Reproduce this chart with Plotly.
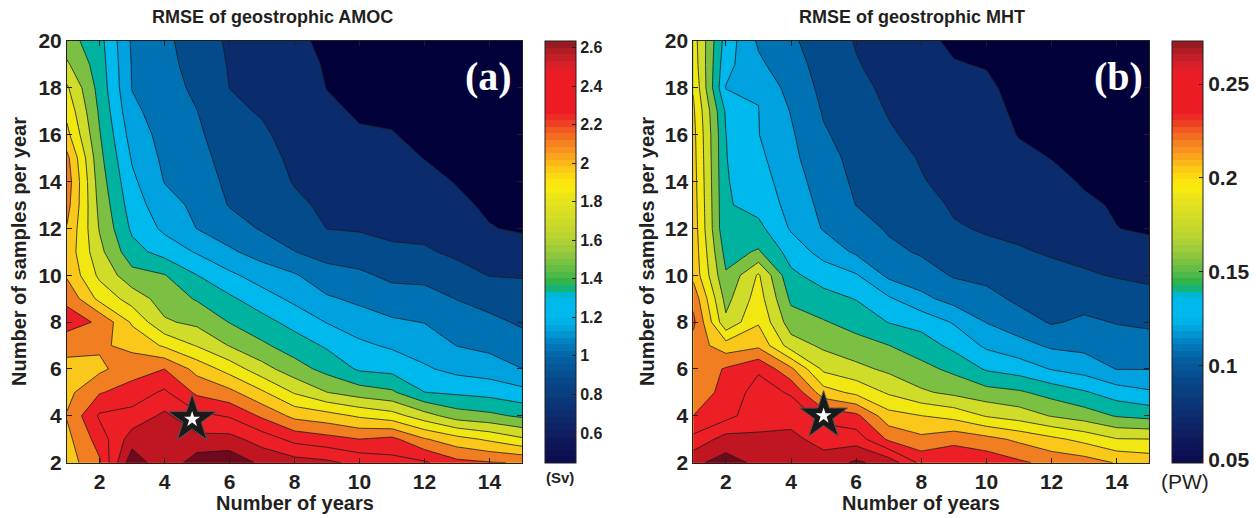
import numpy as np
import plotly.graph_objects as go

# ---------------------------------------------------------------- data
years = list(range(1, 16))          # number of years
samples = list(range(2, 21))        # number of samples per year

# RMSE of geostrophic AMOC (Sv); one list per number of years,
# values for 2, 3, ..., 20 samples per year
amoc_rmse = [
    [1.93, 1.96, 2.01, 1.96, 1.95, 2.05, 2.20, 2.11, 1.98, 1.95, 1.99, 2.05, 2.08, 2.04, 1.90, 1.82, 1.74, 1.60, 1.50],
    [2.12, 2.20, 2.30, 2.13, 1.97, 2.02, 2.12, 1.82, 1.69, 1.62, 1.57, 1.54, 1.51, 1.48, 1.45, 1.42, 1.39, 1.37, 1.35],
    [2.66, 2.49, 2.33, 2.20, 2.08, 1.965, 1.84, 1.66, 1.49, 1.35, 1.275, 1.23, 1.19, 1.147, 1.10, 1.053, 1.015, 1.01, 1.00],
    [2.45, 2.50, 2.45, 2.304, 2.14, 1.84, 1.598, 1.517, 1.447, 1.248, 1.13, 1.072, 1.015, 0.99, 0.97, 0.95, 0.93, 0.92, 0.91],
    [2.64, 2.457, 2.318, 2.112, 1.953, 1.711, 1.548, 1.427, 1.302, 1.146, 1.017, 0.99, 0.962, 0.935, 0.907, 0.882, 0.855, 0.83, 0.81],
    [2.66, 2.467, 2.267, 2.04, 1.804, 1.573, 1.435, 1.325, 1.189, 1.042, 0.943, 0.872, 0.845, 0.818, 0.791, 0.764, 0.739, 0.73, 0.72],
    [2.53, 2.36, 2.117, 1.883, 1.634, 1.465, 1.349, 1.222, 1.095, 0.962, 0.867, 0.84, 0.813, 0.786, 0.759, 0.73, 0.71, 0.69, 0.67],
    [2.48, 2.238, 1.962, 1.707, 1.50, 1.372, 1.252, 1.128, 1.034, 0.882, 0.824, 0.768, 0.731, 0.713, 0.694, 0.676, 0.66, 0.64, 0.62],
    [2.45, 2.191, 1.916, 1.582, 1.395, 1.281, 1.154, 1.038, 0.932, 0.83, 0.738, 0.713, 0.689, 0.665, 0.641, 0.617, 0.598, 0.59, 0.58],
    [2.38, 2.142, 1.84, 1.51, 1.281, 1.188, 1.088, 0.991, 0.906, 0.805, 0.728, 0.698, 0.669, 0.639, 0.609, 0.59, 0.576, 0.563, 0.55],
    [2.33, 2.178, 1.78, 1.463, 1.258, 1.14, 1.04, 0.943, 0.849, 0.758, 0.717, 0.689, 0.661, 0.633, 0.604, 0.585, 0.57, 0.55, 0.53],
    [2.30, 2.014, 1.64, 1.302, 1.179, 1.094, 1.016, 0.931, 0.844, 0.754, 0.708, 0.671, 0.634, 0.598, 0.58, 0.56, 0.54, 0.525, 0.51],
    [2.18, 1.913, 1.51, 1.277, 1.119, 1.017, 0.947, 0.876, 0.785, 0.717, 0.67, 0.623, 0.594, 0.577, 0.56, 0.54, 0.52, 0.505, 0.49],
    [2.15, 1.836, 1.473, 1.253, 1.09, 0.985, 0.913, 0.829, 0.736, 0.671, 0.606, 0.582, 0.565, 0.548, 0.53, 0.515, 0.50, 0.485, 0.47],
    [2.13, 1.744, 1.417, 1.205, 1.022, 0.938, 0.861, 0.796, 0.731, 0.658, 0.585, 0.565, 0.545, 0.525, 0.51, 0.495, 0.48, 0.465, 0.45],
]

# RMSE of geostrophic MHT (PW); same layout
mht_rmse = [
    [0.262, 0.241, 0.2225, 0.212, 0.211, 0.216, 0.226, 0.218, 0.204, 0.203, 0.202, 0.201, 0.200, 0.199, 0.198, 0.196, 0.1925, 0.188, 0.186],
    [0.272, 0.257, 0.232, 0.228, 0.224, 0.200, 0.168, 0.160, 0.152, 0.145, 0.138, 0.1375, 0.137, 0.1365, 0.1362, 0.134, 0.121, 0.126, 0.130],
    [0.262, 0.2535, 0.246, 0.2425, 0.235, 0.205, 0.192, 0.186, 0.181, 0.152, 0.140, 0.131, 0.128, 0.125, 0.122, 0.1218, 0.121, 0.110, 0.105],
    [0.262, 0.255, 0.246, 0.2352, 0.2109, 0.172, 0.157, 0.1476, 0.139, 0.130, 0.120, 0.117, 0.114, 0.111, 0.109, 0.1065, 0.101, 0.098, 0.095],
    [0.2574, 0.2459, 0.232, 0.1998, 0.1761, 0.162, 0.1515, 0.1411, 0.1297, 0.1163, 0.106, 0.1031, 0.1002, 0.0972, 0.0943, 0.0916, 0.0897, 0.0878, 0.0859],
    [0.268, 0.2446, 0.226, 0.1901, 0.1688, 0.1558, 0.1451, 0.1354, 0.1229, 0.1048, 0.0988, 0.0926, 0.0905, 0.0892, 0.0870, 0.0847, 0.0825, 0.0793, 0.0775],
    [0.260, 0.220, 0.199, 0.1772, 0.1618, 0.1506, 0.1355, 0.1235, 0.104, 0.096, 0.0912, 0.0884, 0.0856, 0.0829, 0.0801, 0.0775, 0.0752, 0.0735, 0.0718],
    [0.233, 0.2116, 0.1938, 0.167, 0.1547, 0.1431, 0.1309, 0.1111, 0.0989, 0.0913, 0.0873, 0.0832, 0.0792, 0.0775, 0.0745, 0.072, 0.070, 0.068, 0.0662],
    [0.234, 0.2183, 0.1888, 0.1613, 0.147, 0.1322, 0.1203, 0.1017, 0.0916, 0.0856, 0.0796, 0.0768, 0.0747, 0.0727, 0.0706, 0.0686, 0.0665, 0.0645, 0.0625],
    [0.232, 0.2128, 0.1781, 0.1558, 0.1344, 0.1191, 0.1067, 0.0974, 0.089, 0.0814, 0.0772, 0.0753, 0.0734, 0.0715, 0.0695, 0.0676, 0.0657, 0.0635, 0.060],
    [0.225, 0.205, 0.1725, 0.1524, 0.1295, 0.1122, 0.099, 0.0899, 0.0847, 0.0794, 0.0759, 0.0727, 0.0696, 0.0665, 0.0635, 0.062, 0.061, 0.059, 0.058],
    [0.218, 0.1972, 0.1639, 0.1451, 0.1208, 0.1049, 0.0915, 0.0865, 0.0816, 0.0773, 0.0739, 0.0705, 0.0671, 0.0638, 0.063, 0.062, 0.060, 0.058, 0.056],
    [0.215, 0.1894, 0.1579, 0.1377, 0.1158, 0.1032, 0.0952, 0.0875, 0.0799, 0.0748, 0.0703, 0.0658, 0.063, 0.062, 0.061, 0.059, 0.057, 0.055, 0.053],
    [0.207, 0.180, 0.1493, 0.1286, 0.1068, 0.0994, 0.0921, 0.0848, 0.0775, 0.0708, 0.0642, 0.063, 0.062, 0.060, 0.058, 0.056, 0.054, 0.052, 0.050],
    [0.203, 0.1795, 0.1461, 0.1235, 0.1068, 0.0987, 0.0903, 0.0829, 0.0754, 0.0678, 0.0625, 0.062, 0.060, 0.058, 0.056, 0.054, 0.052, 0.050, 0.048],
]

# reference configuration marked with a star (years, samples per year)
star_amoc = (4.85, 3.85)
star_mht = (5.0, 4.0)

# contour levels: first level, spacing, number of levels
amoc_levels = (0.60, 0.14, 15)
mht_levels = (0.064, 0.0144, 15)

# colour-bar ranges and ticks
amoc_crange = (0.444, 2.634)
mht_crange = (0.048, 0.273)
amoc_cticks = [0.6, 0.8, 1.0, 1.2, 1.4, 1.6, 1.8, 2.0, 2.2, 2.4, 2.6]
amoc_cticktext = ["0.6", "0.8", "1", "1.2", "1.4", "1.6", "1.8", "2", "2.2", "2.4", "2.6"]
mht_cticks = [0.05, 0.10, 0.15, 0.20, 0.25]
mht_cticktext = ["0.05", "0.1", "0.15", "0.2", "0.25"]

# ---------------------------------------------------------------- colours
# fill colour of each band between contour levels (lowest to highest)
band_colors = ["#03013a", "#0b2c6c", "#044b8b", "#0071b2", "#00a1df", "#00b9ec",
               "#00b3a1", "#7bc043", "#cfdc2a", "#f1e712", "#fac81b", "#f27e22",
               "#ec1e26", "#ec1e26", "#bf1622", "#6f0a1c"]

# anchor colours of the 64-step colour bar
cbar_anchors = [
    (0.00, "#0b0b4c"), (0.06, "#10195e"), (0.13, "#0b3274"), (0.20, "#064a8a"),
    (0.25, "#0462a4"), (0.29, "#0284c6"), (0.32, "#00a6de"), (0.345, "#00b9ec"),
    (0.395, "#00b9ec"), (0.405, "#00b3a2"), (0.425, "#2bb34a"), (0.45, "#56b947"),
    (0.49, "#8cc63f"), (0.53, "#b5d334"), (0.58, "#d2dc27"), (0.62, "#e5e31c"),
    (0.655, "#faec0c"), (0.69, "#fdd113"), (0.725, "#f9a61b"), (0.755, "#f58520"),
    (0.78, "#f26522"), (0.805, "#ee4023"), (0.83, "#ed1c24"), (0.92, "#ed1c24"),
    (0.95, "#d0202a"), (0.975, "#b21d25"), (1.00, "#8b1a1f"),
]


def hex_to_rgb(h):
    h = h.lstrip("#")
    return np.array([int(h[i:i + 2], 16) for i in (0, 2, 4)], dtype=float)


def stepped_colorbar_scale(anchors, nsteps=64):
    pos = np.array([a[0] for a in anchors])
    rgb = np.array([hex_to_rgb(a[1]) for a in anchors])
    scale = []
    for i in range(nsteps):
        f = (i + 0.5) / nsteps
        c = [np.interp(f, pos, rgb[:, k]) for k in range(3)]
        col = "rgb(%d,%d,%d)" % tuple(int(round(v)) for v in c)
        scale.append([i / nsteps, col])
        scale.append([(i + 1) / nsteps, col])
    return scale


def band_scale(colors):
    n = len(colors) - 1
    return [[k / n, c] for k, c in enumerate(colors)]


cbar_scale = stepped_colorbar_scale(cbar_anchors)
fill_scale = band_scale(band_colors)

# ---------------------------------------------------------------- layout geometry (pixels)
W, H = 1256, 518
TOP, BOTTOM = 41, 462.7
panels = [
    dict(z=amoc_rmse, levels=amoc_levels, crange=amoc_crange, cticks=amoc_cticks,
         ctext=amoc_cticktext, cfont=16, star=star_amoc, x0=67, x1=522, cb=545,
         title="RMSE of geostrophic AMOC", title_x=272, tag="(a)", tag_x=488,
         unit="(Sv)", unit_x=560, unit_y=477, unit_size=15, unit_weight="bold", ylab_x=19),
    dict(z=mht_rmse, levels=mht_levels, crange=mht_crange, cticks=mht_cticks,
         ctext=mht_cticktext, cfont=21, star=star_mht, x0=693.3, x1=1149.3, cb=1172.3,
         title="RMSE of geostrophic MHT", title_x=912, tag="(b)", tag_x=1118,
         unit="(PW)", unit_x=1185, unit_y=481, unit_size=21, unit_weight="normal", ylab_x=647),
]

INK = "#231f20"
SANS = "Liberation Sans, Arial, Helvetica, sans-serif"
SERIF = "Liberation Serif, Times New Roman, serif"

fig = go.Figure()
annotations = []
layout_axes = {}

for i, p in enumerate(panels, start=1):
    xa = "x" if i == 1 else "x%d" % i
    ya = "y" if i == 1 else "y%d" % i
    z = np.array(p["z"]).T          # rows: samples per year, columns: years
    start, step, n = p["levels"]

    fig.add_trace(go.Contour(
        x=years, y=samples, z=z, xaxis=xa, yaxis=ya,
        contours=dict(start=start, end=start + (n - 1) * step, size=step,
                      coloring="fill", showlines=True),
        line=dict(color="#1a1a1a", width=0.8, smoothing=0),
        colorscale=fill_scale, showscale=False, hoverinfo="skip",
    ))

    # colour bar carried by an invisible marker
    cmin, cmax = p["crange"]
    fig.add_trace(go.Scatter(
        x=[8], y=[11], xaxis=xa, yaxis=ya, mode="markers", hoverinfo="skip",
        showlegend=False,
        marker=dict(size=1, opacity=0, color=[cmin], cmin=cmin, cmax=cmax,
                    colorscale=cbar_scale, showscale=True,
                    colorbar=dict(
                        x=p["cb"] / W, xanchor="left", xpad=0,
                        y=1 - TOP / H, yanchor="top", ypad=0,
                        len=(463.3 - TOP) / H, lenmode="fraction",
                        thickness=31, thicknessmode="pixels",
                        outlinewidth=1, outlinecolor=INK,
                        ticks="inside", ticklen=4, tickcolor=INK, tickwidth=1,
                        tickvals=p["cticks"], ticktext=p["ctext"],
                        tickfont=dict(family=SANS, size=p["cfont"], color=INK, weight="bold"),
                    )),
    ))

    # star marker: black star with a small white star inside
    sx, sy = p["star"]
    fig.add_trace(go.Scatter(x=[sx], y=[sy], xaxis=xa, yaxis=ya, mode="markers",
                             hoverinfo="skip", showlegend=False,
                             marker=dict(symbol="star", size=36, color="#1a1a1a",
                                         line=dict(width=1, color="#555555"))))
    fig.add_trace(go.Scatter(x=[sx], y=[sy], xaxis=xa, yaxis=ya, mode="markers",
                             hoverinfo="skip", showlegend=False,
                             marker=dict(symbol="star", size=12, color="white",
                                         line=dict(width=0))))

    axis_common = dict(showline=True, linecolor=INK, linewidth=1, mirror="ticks",
                       ticks="inside", ticklen=5, tickwidth=1, tickcolor=INK,
                       showgrid=False, zeroline=False, automargin=False,
                       tickfont=dict(family=SANS, size=21, color=INK, weight="bold"))
    layout_axes["xaxis" if i == 1 else "xaxis%d" % i] = dict(
        axis_common, domain=[p["x0"] / W, p["x1"] / W], range=[1, 15],
        tickvals=list(range(2, 15, 2)), anchor=ya)
    layout_axes["yaxis" if i == 1 else "yaxis%d" % i] = dict(
        axis_common, domain=[1 - BOTTOM / H, 1 - TOP / H], range=[2, 20],
        tickvals=list(range(2, 21, 2)), anchor=xa)

    xc = (p["x0"] + p["x1"]) / 2
    annotations += [
        dict(text=p["title"], x=p["title_x"] / W, y=1 - 17 / H, xref="paper", yref="paper",
             showarrow=False, xanchor="center", yanchor="middle",
             font=dict(family=SANS, size=18, color=INK, weight="bold")),
        dict(text="Number of years", x=xc / W, y=1 - 503 / H, xref="paper", yref="paper",
             showarrow=False, xanchor="center", yanchor="middle",
             font=dict(family=SANS, size=20, color=INK, weight="bold")),
        dict(text="Number of samples per year", x=p["ylab_x"] / W, y=1 - 252 / H,
             xref="paper", yref="paper", showarrow=False, textangle=-90,
             xanchor="center", yanchor="middle",
             font=dict(family=SANS, size=20, color=INK, weight="bold")),
        dict(text=p["tag"], x=p["tag_x"] / W, y=1 - 76 / H, xref="paper", yref="paper",
             showarrow=False, xanchor="center", yanchor="middle",
             font=dict(family=SERIF, size=40, color="white", weight="bold")),
        dict(text=p["unit"], x=p["unit_x"] / W, y=1 - p["unit_y"] / H, xref="paper",
             yref="paper", showarrow=False, xanchor="center", yanchor="middle",
             font=dict(family=SANS, size=p["unit_size"], color=INK, weight=p["unit_weight"])),
    ]

fig.update_layout(
    width=W, height=H, margin=dict(l=0, r=0, t=0, b=0, autoexpand=False),
    paper_bgcolor="white", plot_bgcolor="white", showlegend=False,
    annotations=annotations, **layout_axes,
)

fig.write_html("out.html")
